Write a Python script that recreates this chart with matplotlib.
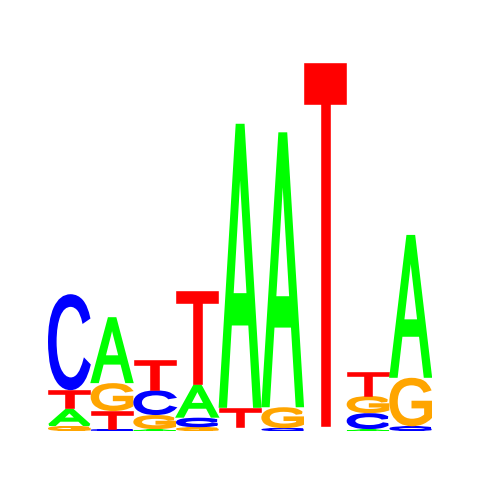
import matplotlib
matplotlib.use("Agg")
import matplotlib.pyplot as plt
from matplotlib.textpath import TextPath
from matplotlib.patches import PathPatch
from matplotlib.font_manager import FontProperties
from matplotlib.transforms import Affine2D

# information content (bits) per letter at each of the 9 positions
positions = [1, 2, 3, 4, 5, 6, 7, 8, 9]
a_bits = [0.092, 0.347, 0.010, 0.175, 1.495, 1.447, 0.008, 0.010, 0.752]
c_bits = [0.505, 0.010, 0.130, 0.050, 0.008, 0.015, 0.008, 0.084, 0.025]
g_bits = [0.026, 0.147, 0.074, 0.020, 0.009, 0.110, 0.009, 0.090, 0.255]
t_bits = [0.097, 0.095, 0.163, 0.495, 0.105, 0.000, 1.916, 0.130, 0.000]

letters = ["A", "C", "G", "T"]
colors = {"A": "#00ff00", "C": "#0000ff", "G": "#ffa500", "T": "#ff0000"}

font = FontProperties(family="Liberation Sans", weight="normal")

px_per_bit = 190
px_per_col = 384 / 9
min_drawn = 0.0095  # thinner letters are too small to show


def draw_letter(ax, letter, x, y, width, height):
    # outline in the letter's own colour thickens the strokes a bit
    stroke = min(2.6, 0.3 * height * px_per_bit)
    ix = (stroke / 2) / px_per_col
    iy = (stroke / 2) / px_per_bit
    path = TextPath((0, 0), letter, size=1, prop=font)
    ext = path.get_extents()
    tr = (
        Affine2D()
        .translate(-ext.x0, -ext.y0)
        .scale((width - 2 * ix) / ext.width, (height - 2 * iy) / ext.height)
        .translate(x + ix, y + iy)
    )
    patch = PathPatch(tr.transform_path(path), facecolor=colors[letter],
                      edgecolor=colors[letter], lw=stroke * 72 / 100,
                      joinstyle="miter")
    ax.add_patch(patch)


fig = plt.figure(figsize=(4.8, 4.8), dpi=100)
# baseline at y=431 px
ax = fig.add_axes([48 / 480, 49 / 480, 384 / 480, 380 / 480])
ax.set_xlim(0.5, 9.5)
ax.set_ylim(0, 2)
ax.axis("off")

columns = list(zip(a_bits, c_bits, g_bits, t_bits))
for pos, vals in zip(positions, columns):
    stack = sorted(zip(vals, letters))
    y = 0.0
    for h, letter in stack:
        if h <= 0:
            continue
        if h >= min_drawn:
            draw_letter(ax, letter, pos - 0.5, y, 1.0, h)
        y += h

fig.savefig("out.png", dpi=100)
